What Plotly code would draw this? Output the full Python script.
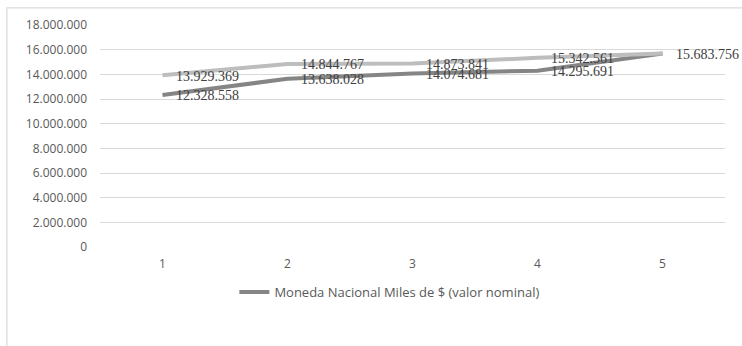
import plotly.graph_objects as go

# Periods on the category axis
periods = [1, 2, 3, 4, 5]
period_labels = ["1", "2", "3", "4", "5"]

# Moneda Nacional, miles de $ (valor nominal)
nominal = [12328558, 13638028, 14074681, 14295691, 15683756]
# Second series (no legend entry)
second = [13929369, 14844767, 14873841, 15342561, 15683756]

y_ticks = list(range(0, 18000001, 2000000))
y_tick_text = [f"{v:,}".replace(",", ".") for v in y_ticks]


def fmt(v):
    return f"{v:,}".replace(",", ".")


fig = go.Figure()
fig.add_trace(go.Scatter(
    x=periods, y=nominal, mode="lines",
    line=dict(color="#858585", width=4),
    name="Moneda Nacional Miles de $ (valor nominal)",
    showlegend=True,
))
fig.add_trace(go.Scatter(
    x=periods, y=second, mode="lines",
    line=dict(color="#bdbdbd", width=4),
    name="",
    showlegend=False,
))

label_font = dict(family="Liberation Serif", size=14, color="#404040")
annotations = []
for x, v in zip(periods, nominal):
    annotations.append(dict(x=x, y=v, text=fmt(v), showarrow=False,
                            xanchor="left", yanchor="middle",
                            xshift=11, yshift=-1, font=label_font))
for x, v in zip(periods[:-1], second[:-1]):
    annotations.append(dict(x=x, y=v, text=fmt(v), showarrow=False,
                            xanchor="left", yanchor="middle",
                            xshift=11, yshift=-1, font=label_font))

fig.update_layout(
    width=742, height=346,
    margin=dict(l=100, r=17, t=25, b=99),
    paper_bgcolor="white", plot_bgcolor="white",
    font=dict(family="Open Sans", size=12, color="#595959"),
    annotations=annotations,
    legend=dict(orientation="h", x=0.215, xanchor="left",
                y=-0.203, yanchor="middle",
                font=dict(family="Open Sans", size=13, color="#595959"),
                itemwidth=30, bgcolor="rgba(0,0,0,0)"),
    shapes=[
        # chart area border (top and left edges visible)
        dict(type="rect", xref="paper", yref="paper",
             x0=-0.149, x1=1.04, y0=-0.5, y1=1.077,
             line=dict(color="#d9d9d9", width=1.2), layer="below"),
    ],
    showlegend=True,
)
fig.update_xaxes(
    type="linear", range=[0.5, 5.5],
    tickvals=periods, ticktext=period_labels,
    showgrid=False, zeroline=False, showline=False,
    ticks="", ticklabelstandoff=8,
    tickfont=dict(family="Open Sans", size=12, color="#595959"),
)
fig.update_yaxes(
    range=[0, 18000000],
    tickvals=y_ticks, ticktext=y_tick_text,
    showgrid=True, gridcolor="#d9d9d9", gridwidth=1,
    zeroline=False, showline=False, ticks="",
    ticklabelstandoff=12,
    tickfont=dict(family="Open Sans", size=12, color="#595959"),
)

fig.write_html("out.html")
